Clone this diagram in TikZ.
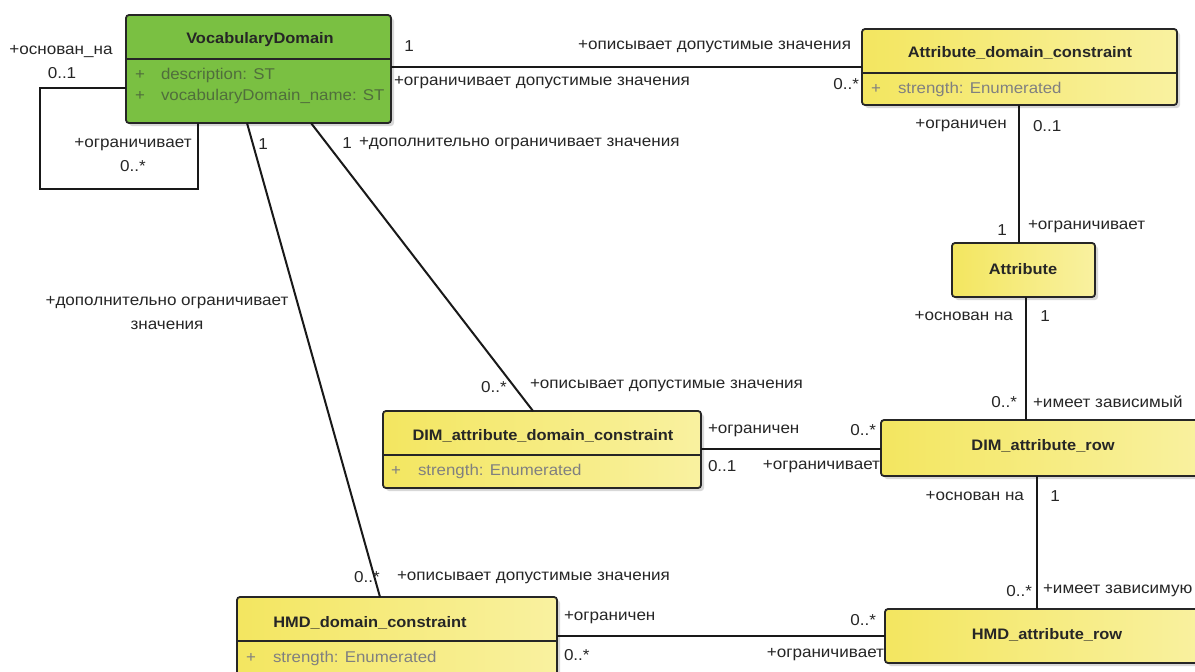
\documentclass[tikz,border=0pt]{standalone}
\usepackage{fontspec}
\setmainfont{Liberation Sans}[FakeStretch=1.08]
\definecolor{ylwL}{RGB}{243,230,96}
\definecolor{ylwR}{RGB}{249,241,160}
\definecolor{grn}{RGB}{122,192,66}
\definecolor{gtxt}{RGB}{80,110,60}
\begin{document}
\begin{tikzpicture}[x=1pt,y=-1pt,
  every node/.style={inner sep=0pt, outer sep=0pt},
  lbl/.style={font=\fontsize{15.8}{17}\selectfont, text=black!85},
  ttl/.style={font=\fontsize{15.2}{17}\selectfont\bfseries, text=black!85},
  attr/.style={font=\fontsize{15.6}{17}\selectfont, text=black!50},
  gattr/.style={font=\fontsize{15.6}{17}\selectfont, text=gtxt},
  ybox/.style={draw=black!85, line width=1.8pt, rounded corners=3pt,
    left color=ylwL, right color=ylwR, anchor=north west},
  gbox/.style={draw=black!85, line width=1.8pt, rounded corners=3pt,
    fill=grn, anchor=north west},
  shadowbox/.style={fill=black!25, rounded corners=3pt, opacity=0.6, anchor=north west},
  conn/.style={draw=black!90, line width=2pt},
  sep/.style={draw=black!85, line width=1.5pt}
]
\clip (0,0) rectangle (1195,672);
\fill[white] (0,0) rectangle (1195,672);

% shadows
\node[shadowbox, minimum width=265pt, minimum height=108pt] at (129,18) {};
\node[shadowbox, minimum width=315pt, minimum height=76pt] at (865,32) {};
\node[shadowbox, minimum width=143pt, minimum height=54pt] at (955,246) {};
\node[shadowbox, minimum width=318pt, minimum height=77pt] at (386,414) {};
\node[shadowbox, minimum width=324pt, minimum height=56pt] at (884,423) {};
\node[shadowbox, minimum width=320pt, minimum height=90pt] at (240,600) {};
\node[shadowbox, minimum width=320pt, minimum height=54pt] at (888,612) {};

% classes
\node[gbox, minimum width=265pt, minimum height=108pt] (vd) at (126,15) {};
\node[ybox, minimum width=315pt, minimum height=76pt] (adc) at (862,29) {};
\node[ybox, minimum width=143pt, minimum height=54pt] (attr) at (952,243) {};
\node[ybox, minimum width=318pt, minimum height=77pt] (dimc) at (383,411) {};
\node[ybox, minimum width=324pt, minimum height=56pt] (dimr) at (881,420) {};
\node[ybox, minimum width=320pt, minimum height=90pt] (hmdc) at (237,597) {};
\node[ybox, minimum width=320pt, minimum height=54pt] (hmdr) at (885,609) {};

% compartment separators
\draw[sep] (vd.west |- 0,59) -- (vd.east |- 0,59);
\draw[sep] (adc.west |- 0,73) -- (adc.east |- 0,73);
\draw[sep] (dimc.west |- 0,455) -- (dimc.east |- 0,455);
\draw[sep] (hmdc.west |- 0,641) -- (hmdc.east |- 0,641);

% class names
\node[ttl] (vdt) at (260,40) {VocabularyDomain};
\node[ttl] (adct) at (1020,53) {Attribute\_domain\_constraint};
\node[ttl] (attrt) at (1023,269) {Attribute};
\node[ttl] (dimct) at (543,436) {DIM\_attribute\_domain\_constraint};
\node[ttl] (dimrt) at (1043,446) {DIM\_attribute\_row};
\node[ttl] (hmdct) at (370,623) {HMD\_domain\_constraint};
\node[ttl] (hmdrt) at (1047,635) {HMD\_attribute\_row};

% attributes
\node[gattr] (vdp1) at (140,75) {+};
\node[gattr, anchor=west] (vda1) at (161,75) {description: ST};
\node[gattr] (vdp2) at (140,96) {+};
\node[gattr, anchor=west] (vda2) at (161,96) {vocabularyDomain\_name: ST};
\node[attr] (adcp) at (876,89) {+};
\node[attr, anchor=west] (adca) at (898,89) {strength: Enumerated};
\node[attr] (dimcp) at (396,471) {+};
\node[attr, anchor=west] (dimca) at (418,471) {strength: Enumerated};
\node[attr] (hmdcp) at (251,658) {+};
\node[attr, anchor=west] (hmdca) at (273,658) {strength: Enumerated};

% associations
\draw[conn] (vd.east |- 0,67) -- (adc.west |- 0,67);
\draw[conn] (vd.west |- 0,88) -- (40,88) -- (40,189) -- (198,189) -- (vd.south -| 198,0);
\draw[conn] (vd.south -| 247,0) -- (hmdc.north -| 380,0);
\draw[conn] (vd.south -| 311,0) -- (dimc.north -| 533,0);
\draw[conn] (adc.south -| 1019,0) -- (attr.north -| 1019,0);
\draw[conn] (attr.south -| 1026,0) -- (dimr.north -| 1026,0);
\draw[conn] (dimc.east |- 0,449) -- (dimr.west |- 0,449);
\draw[conn] (dimr.south -| 1037,0) -- (hmdr.north -| 1037,0);
\draw[conn] (hmdc.east |- 0,636) -- (hmdr.west |- 0,636);

% role names and multiplicities
\node[lbl] (l1) at (409,46) {1};
\node[lbl, anchor=east] (l2) at (851,47) {+описывает допустимые значения};
\node[lbl, anchor=west] (l3) at (394,83) {+ограничивает допустимые значения};
\node[lbl, anchor=east] (l4) at (859,84) {0..*};
\node[lbl] (l5) at (61,52) {+основан\_на};
\node[lbl] (l6) at (62,73) {0..1};
\node[lbl] (l7) at (133,145) {+ограничивает};
\node[lbl] (l8) at (133,166) {0..*};
\node[lbl] (l9) at (263,144) {1};
\node[lbl] (l10) at (347,143) {1};
\node[lbl, anchor=west] (l11) at (359,144) {+дополнительно ограничивает значения};
\node[lbl] (l12) at (167,303) {+дополнительно ограничивает};
\node[lbl] (l13) at (167,325) {значения};
\node[lbl] (l14) at (494,387) {0..*};
\node[lbl, anchor=west] (l15) at (530,386) {+описывает допустимые значения};
\node[lbl] (l16) at (367,577) {0..*};
\node[lbl, anchor=west] (l17) at (397,578) {+описывает допустимые значения};
\node[lbl] (l18) at (961,126) {+ограничен};
\node[lbl, anchor=west] (l19) at (1033,126) {0..1};
\node[lbl] (l20) at (1002,230) {1};
\node[lbl, anchor=west] (l21) at (1028,227) {+ограничивает};
\node[lbl, anchor=east] (l22) at (1013,316) {+основан на};
\node[lbl] (l23) at (1045,316) {1};
\node[lbl, anchor=east] (l24) at (1017,402) {0..*};
\node[lbl, anchor=west] (l25) at (1033,402) {+имеет зависимый};
\node[lbl, anchor=west] (l26) at (708,431) {+ограничен};
\node[lbl, anchor=east] (l27) at (876,430) {0..*};
\node[lbl, anchor=west] (l28) at (708,466) {0..1};
\node[lbl, anchor=east] (l29) at (880,467) {+ограничивает};
\node[lbl, anchor=east] (l30) at (1024,496) {+основан на};
\node[lbl] (l31) at (1055,496) {1};
\node[lbl, anchor=east] (l32) at (1032,591) {0..*};
\node[lbl, anchor=west] (l33) at (1043,591) {+имеет зависимую};
\node[lbl, anchor=west] (l34) at (564,618) {+ограничен};
\node[lbl, anchor=east] (l35) at (876,620) {0..*};
\node[lbl, anchor=west] (l36) at (564,655) {0..*};
\node[lbl, anchor=east] (l37) at (884,655) {+ограничивает};
\end{tikzpicture}
\end{document}
